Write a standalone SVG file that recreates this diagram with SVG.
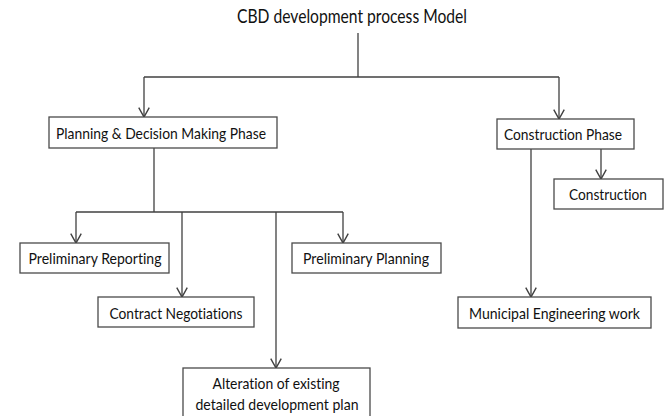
<svg xmlns="http://www.w3.org/2000/svg" width="670" height="416" viewBox="0 0 670 416">
<style>
.box{fill:#fff;stroke:#4a4a4a;stroke-width:1.3}
.t{font-family:Lato,"Open Sans","Liberation Sans",sans-serif;font-size:15px;fill:#111;text-anchor:middle;font-variant-ligatures:none}
.title{font-size:18.5px}
.c{fill:none;stroke:#404040;stroke-width:1.3}
</style>
<defs>
<marker id="ah" markerUnits="userSpaceOnUse" markerWidth="14" markerHeight="14" refX="0" refY="0" viewBox="-10 -6 12 12" orient="auto" overflow="visible">
<path d="M-8,-4.5 L0,0 L-8,4.5" fill="none" stroke="#404040" stroke-width="1.2"/>
</marker>
</defs>
<rect width="670" height="416" fill="#fff"/>
<g id="connectors">
<path class="c" d="M358,33 V77"/>
<path class="c" d="M144,77 H559"/>
<path class="c" d="M144,77 V117" marker-end="url(#ah)"/>
<path class="c" d="M559,77 V119" marker-end="url(#ah)"/>
<path class="c" d="M154,148 V212"/>
<path class="c" d="M76,212 H343"/>
<path class="c" d="M76,212 V243" marker-end="url(#ah)"/>
<path class="c" d="M182,212 V297" marker-end="url(#ah)"/>
<path class="c" d="M276,212 V368" marker-end="url(#ah)"/>
<path class="c" d="M343,212 V243" marker-end="url(#ah)"/>
<path class="c" d="M531,149 V297" marker-end="url(#ah)"/>
<path class="c" d="M601,149 V179" marker-end="url(#ah)"/>
</g>
<g id="title"><text class="t title" x="352" y="23" textLength="230" lengthAdjust="spacingAndGlyphs">CBD development process Model</text></g>
<g id="planning">
<rect class="box" x="49" y="117" width="228" height="31"/>
<text class="t" x="161" y="139" textLength="210" lengthAdjust="spacingAndGlyphs">Planning &amp; Decision Making Phase</text>
</g>
<g id="construction-phase">
<rect class="box" x="497" y="119" width="137" height="30"/>
<text class="t" x="563" y="140" textLength="118" lengthAdjust="spacingAndGlyphs">Construction Phase</text>
</g>
<g id="construction">
<rect class="box" x="554" y="179" width="109" height="30"/>
<text class="t" x="608" y="200" textLength="78" lengthAdjust="spacingAndGlyphs">Construction</text>
</g>
<g id="preliminary-reporting">
<rect class="box" x="20" y="243" width="149" height="30"/>
<text class="t" x="95" y="264" textLength="133" lengthAdjust="spacingAndGlyphs">Preliminary Reporting</text>
</g>
<g id="preliminary-planning">
<rect class="box" x="292" y="243" width="149" height="30"/>
<text class="t" x="366" y="264" textLength="126" lengthAdjust="spacingAndGlyphs">Preliminary Planning</text>
</g>
<g id="contract-negotiations">
<rect class="box" x="98" y="297" width="156" height="30"/>
<text class="t" x="176" y="319" textLength="133" lengthAdjust="spacingAndGlyphs">Contract Negotiations</text>
</g>
<g id="municipal">
<rect class="box" x="458" y="297" width="193" height="31"/>
<text class="t" x="554.5" y="319" textLength="171" lengthAdjust="spacingAndGlyphs">Municipal Engineering work</text>
</g>
<g id="alteration">
<rect class="box" x="183" y="368" width="187" height="60"/>
<text class="t" x="276" y="389" textLength="127" lengthAdjust="spacingAndGlyphs">Alteration of existing</text>
<text class="t" x="277" y="410" textLength="163" lengthAdjust="spacingAndGlyphs">detailed development plan</text>
</g>
</svg>
